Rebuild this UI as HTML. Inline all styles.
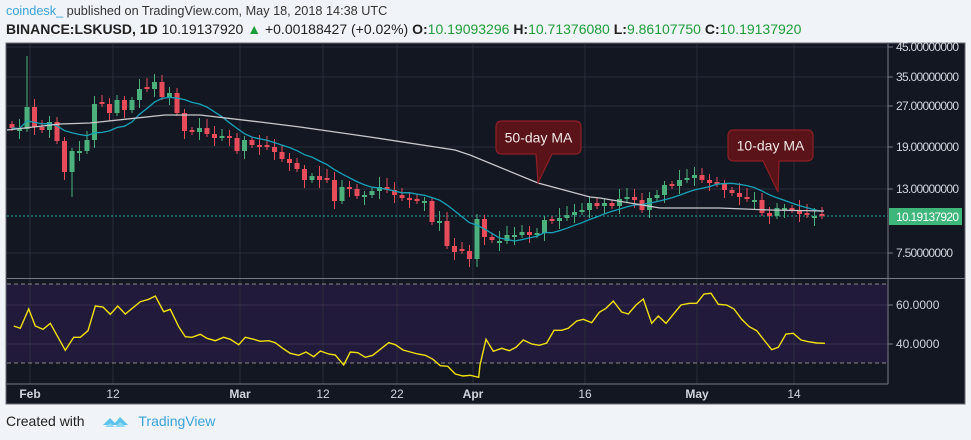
<!DOCTYPE html>
<html><head><meta charset="utf-8"><style>
body{margin:0;width:971px;height:440px;background:#f0f3f7;font-family:"Liberation Sans",sans-serif;overflow:hidden;position:relative}
.t1{position:absolute;left:6px;top:4px;font-size:12.7px;color:#333}
.t2{position:absolute;left:6px;top:21px;font-size:14px;color:#222}
.g{color:#1e9e3a}
.ft{position:absolute;left:6px;top:413px;font-size:14px;color:#222}
</style></head><body>
<svg id="c" width="971" height="440" style="position:absolute;left:0;top:0"></svg>
<div class="t1"><span style="color:#3aa3d9">coindesk_</span> published on TradingView.com, May 18, 2018 14:38 UTC</div>
<div class="t2"><b>BINANCE:LSKUSD, 1D</b> 10.19137920 <span class="g">&#9650;</span> +0.00188427 (+0.02%) <b>O:</b><span class="g">10.19093296</span> <b>H:</b><span class="g">10.71376080</span> <b>L:</b><span class="g">9.86107750</span> <b>C:</b><span class="g">10.19137920</span></div>
<div class="ft">Created with <svg width="28" height="16" style="vertical-align:-3px;margin-left:14px"><path d="M1 12 L8 5 L13 10 L18 4 L26 12 Z" fill="#5bc2ec"/><path d="M3 14 L8 10 L13 14 L18 9 L24 14Z" fill="#8fd6f2"/></svg> <span style="color:#3aa3d9;margin-left:4px">TradingView</span></div>
<script>
(function(){
var s='';
function r(x,y,w,h,f,e){s+='<rect x="'+x+'" y="'+y+'" width="'+w+'" height="'+h+'" fill="'+f+'" '+(e||'')+'/>';}
function l(x1,y1,x2,y2,c,e){s+='<line x1="'+x1+'" y1="'+y1+'" x2="'+x2+'" y2="'+y2+'" stroke="'+c+'" '+(e||'')+'/>';}
function t(x,y,txt,e){s+='<text x="'+x+'" y="'+y+'" '+e+'>'+txt+'</text>';}
r(6,43,959,361,'#131722','stroke="#6b6e78"');
r(7,284,881,79,'#221a3a');
var vx=[30,113,240,323,397,473,585,697,794];
vx.forEach(function(x){l(x,44,x,384,'#2a2e39');});
var py={'45.00000000':47,'35.00000000':77,'27.00000000':106,'19.00000000':147,'13.00000000':189,'7.50000000':253};
for(var k in py){l(7,py[k],888,py[k],'#2a2e39');l(888,py[k],893,py[k],'#787b86');t(896,py[k]+4,k,'fill="#d1d4dc" font-size="12" textLength="'+(k.length==11?63:57)+'"');}
l(7,305,888,305,'#3a3050');l(7,344,888,344,'#3a3050');
l(7,284,888,284,'#888','stroke-dasharray="4,3"');l(7,363,888,363,'#888','stroke-dasharray="4,3"');
t(896,309,'60.0000','fill="#d1d4dc" font-size="12"');t(896,348,'40.0000','fill="#d1d4dc" font-size="12"');
l(888,305,893,305,'#787b86');l(888,344,893,344,'#787b86');
l(7,278.5,965,278.5,'#787b86');l(888,44,888,384,'#787b86');l(7,384,888,384,'#787b86');
l(7,216,888,216,'#26a69a','stroke-dasharray="2,2"');
r(889,208,73,17,'#3fb67a');t(896,221,'10.19137920','fill="#fff" font-size="12" textLength="63"');
var tl=[['Feb',30,1],['12',113],['Mar',240,1],['12',323],['22',397],['Apr',473,1],['16',585],['May',697,1],['14',794]];
tl.forEach(function(a){t(a[1],398,a[0],'fill="#d1d4dc" font-size="12" text-anchor="middle" '+(a[2]?'font-weight="bold"':''));});
var C=[128,129,107,127,130,122,141,172,151,151,140,104,104,113,100,110,100,89,89,82,97,93,113,131,132,128,134,138,136,138,151,140,145,147,147,152,159,163,169,180,176,180,180,201,187,189,196,195,191,187,190,195,198,200,201,201,222,221,246,252,251,259,219,237,240,241,235,235,232,235,233,220,221,218,215,212,210,203,206,203,206,199,197,200,210,198,195,185,186,180,178,175,180,183,184,190,193,197,199,200,213,216,208,208,210,214,215,216,216];
var prev=124;
for(var i=0;i<C.length;i++){var x=12+7.5*i,o=prev,c=C[i];if(Math.abs(o-c)<1.5){o=c+(i%2?2:-2);}
var up=c<o,col=up?'#4bb07c':'#e84b5a';var tp=Math.min(o,c),bt=Math.max(o,c);
var hw=3+(i*7%8),lw=3+(i*5%10);if(i==2)hw=tp-56;if(i==8)lw=197-bt;if(i==62)lw=8;
l(x,tp-hw,x,bt+lw,col);r(x-2.5,tp,5,Math.max(1,bt-tp),col);prev=c;}
var pts=[];for(var i=0;i<C.length;i++){var a=0,n=0;for(var j=Math.max(0,i-9);j<=i;j++){a+=Math.exp((484.8-C[j])/115);n++;}var m=a/n;pts.push((12+7.5*i)+','+(484.8-115*Math.log(m)).toFixed(1));}
s+='<polyline points="'+pts.join(' ')+'" fill="none" stroke="#17a2b8" stroke-width="1.3"/>';
s+='<polyline points="7,130 60,124 90,123 165,115 200,115 260,122 300,127 370,137 455,150 470,155 538,183 590,197 600,198 660,208 720,208 770,210 824,211" fill="none" stroke="#c8c8cc" stroke-width="1.3"/>';
var r1=[[20,168],[40,175],[65,117],[85,168],[108,178],[130,160],[152,200],[175,241],[200,202],[220,202],[243,182],[265,108],[288,111],[310,133],[332,108],[355,132],[378,113],[400,95],[425,88],[445,78],[470,125],[490,118],[515,170],[535,200],[555,202],[580,193],[600,205],[625,212],[650,202],[670,208],[695,224],[715,202],[740,208],[760,214],[785,212],[805,218],[830,237],[850,250],[875,256],[897,246],[920,260],[940,243],[965,252],[985,255],[1010,285],[1030,246],[1052,248],[1075,262],[1097,256],[1120,238],[1145,218],[1165,224],[1188,240],[1210,246],[1232,252],[1255,256],[1278,268],[1300,287],[1322,289],[1345,312],[1368,318],[1390,316],[1415,322]];
var r2=[[0,285],[18,208],[40,244],[65,235],[88,242],[108,232],[130,210],[155,222],[178,226],[200,219],[222,181],[245,181],[265,175],[290,153],[310,148],[335,158],[358,127],[378,115],[400,93],[425,126],[445,132],[468,105],[490,87],[515,160],[535,138],[558,160],[580,133],[603,105],[628,100],[650,100],[672,72],[693,70],[715,103],[740,105],[762,117],[785,148],[808,170],[830,182],[852,210],[875,239],[895,232],[918,192],[940,190],[963,210],[985,215],[1010,219],[1035,220]];
var rp=r1.map(function(a){return (7+a[0]/3).toFixed(1)+','+(270+a[1]/3).toFixed(1)}).concat(r2.map(function(a){return (480+a[0]/3).toFixed(1)+','+(270+a[1]/3).toFixed(1)}));
s+='<polyline points="'+rp.join(' ')+'" fill="none" stroke="#f0e010" stroke-width="1.4"/>';
function call(x,y,w,h,px,tx,ty,txt){s+='<path d="M'+(x+6)+','+y+' h'+(w-12)+' q6,0 6,6 v'+(h-12)+' q0,6 -6,6 H'+(px+8)+' L'+tx+','+ty+' L'+(px-8)+','+(y+h)+' H'+(x+6)+' q-6,0 -6,-6 v'+(-(h-12))+' q0,-6 6,-6z" fill="#5a1419" stroke="#8e1f26" stroke-width="1.2"/>';t(x+w/2,y+h/2+5,txt,'fill="#f2e6e6" font-size="14" text-anchor="middle"');}
call(496,121,85,33,544,538,183,'50-day MA');
call(728,130,85,31,771,778,192,'10-day MA');
document.getElementById('c').innerHTML=s;
})();
</script>
</body></html>
